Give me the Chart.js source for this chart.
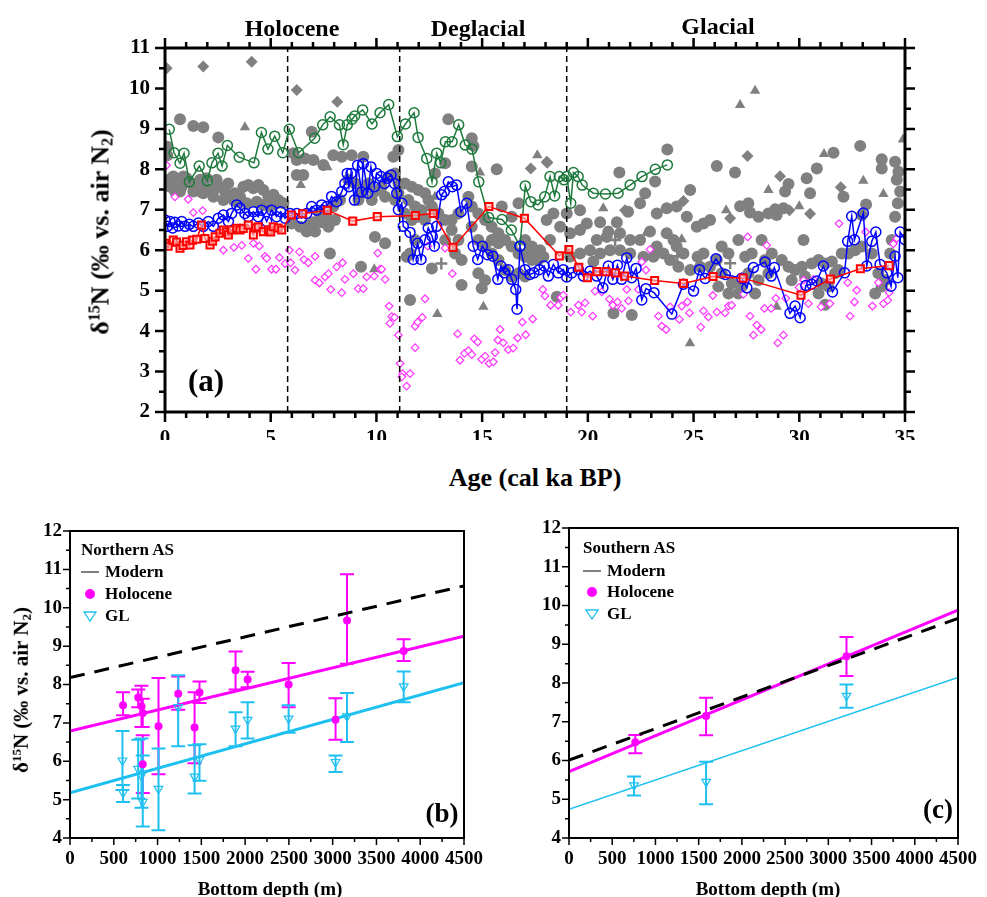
<!DOCTYPE html>
<html>
<head>
<meta charset="utf-8">
<script src="https://cdn.jsdelivr.net/npm/chart.js@4.4.1/dist/chart.umd.min.js"></script>
<style>
  body { margin: 0; background: #fff; }
  #wrap { position: relative; width: 987px; height: 897px; overflow: hidden; background: #fff; }
  canvas { position: absolute; }
  .t { position: absolute; font-family: 'Liberation Serif', 'Times New Roman', serif; font-weight: bold; color: #000; white-space: nowrap; transform: translate(-50%, -50%); }
  .l { position: absolute; font-family: 'Liberation Serif', 'Times New Roman', serif; font-weight: bold; color: #000; white-space: nowrap; transform: translateY(-50%); }
  .rot { transform: translate(-50%, -50%) rotate(-90deg); }
  sup, sub { font-size: 62%; }
  sup { vertical-align: 0.55em; } sub { vertical-align: -0.25em; }
</style>
</head>
<body>
<div id="wrap">
  <canvas id="chartA" width="987" height="440" style="left:0;top:0"></canvas>
  <canvas id="chartB" width="493" height="397" style="left:0;top:500px"></canvas>
  <canvas id="chartC" width="494" height="397" style="left:493px;top:500px"></canvas>

  <div class="t" style="left:292px;top:28px;font-size:24px">Holocene</div>
  <div class="t" style="left:478px;top:28px;font-size:24px">Deglacial</div>
  <div class="t" style="left:718px;top:26px;font-size:24px">Glacial</div>
  <div class="t" style="left:206px;top:381px;font-size:31px">(a)</div>
  <div class="t rot" style="left:101px;top:232px;font-size:26px">&delta;<sup>15</sup>N (&permil; vs. air N<sub>2</sub>)</div>
  <div class="t" style="left:535px;top:478px;font-size:26px">Age (cal ka BP)</div>

  <div class="t rot" style="left:22px;top:690px;font-size:21px">&delta;<sup>15</sup>N (&permil; vs. air N<sub>2</sub>)</div>
  <div class="t" style="left:270px;top:889px;font-size:19px">Bottom depth (m)</div>
  <div class="l" style="left:81px;top:550px;font-size:17px">Northern AS</div>
  <div class="l" style="left:105px;top:572px;font-size:17px">Modern</div>
  <div class="l" style="left:105px;top:594px;font-size:17px">Holocene</div>
  <div class="l" style="left:105px;top:616px;font-size:17px">GL</div>
  <div class="t" style="left:442px;top:813px;font-size:27px">(b)</div>

  <div class="t" style="left:768px;top:889px;font-size:19px">Bottom depth (m)</div>
  <div class="l" style="left:583px;top:548px;font-size:17px">Southern AS</div>
  <div class="l" style="left:607px;top:571px;font-size:17px">Modern</div>
  <div class="l" style="left:607px;top:592px;font-size:17px">Holocene</div>
  <div class="l" style="left:607px;top:614px;font-size:17px">GL</div>
  <div class="t" style="left:938px;top:809px;font-size:27px">(c)</div>
</div>
<script>
// ---------- panel (a): d15N vs age ----------
const periodBounds = [5.8, 11.1, 19.0];

const greenSeries = [[0.2,8.99],[0.43,8.41],[0.71,8.15],[0.9,8.4],[1.15,7.69],[1.62,8.08],[2.0,7.72],[2.22,8.16],[2.51,8.4],[2.7,8.08],[2.95,8.59],[3.51,8.3],[4.21,8.16],[4.56,8.91],[4.87,8.5],[5.19,8.82],[5.57,8.41],[5.88,8.99],[6.32,8.41],[7.08,8.77],[7.46,9.1],[7.81,9.3],[8.25,9.1],[8.43,8.61],[8.62,9.1],[8.85,9.24],[8.97,9.32],[9.35,9.47],[9.79,9.12],[10.17,9.4],[10.58,9.6],[10.99,8.81],[11.37,9.12],[11.78,9.4],[11.97,8.79],[12.38,8.27],[12.63,7.69],[12.85,8.4],[13.04,8.16],[13.26,8.68],[13.58,8.68],[13.89,9.1],[14.2,8.6],[14.52,8.5],[14.84,7.69],[15.31,6.81],[15.94,6.76],[16.38,6.5],[16.79,6.1],[17.04,7.59],[17.3,7.2],[17.65,7.12],[17.96,7.32],[18.21,7.82],[18.43,7.34],[18.65,7.82],[18.87,7.74],[19.0,7.82],[19.19,7.16],[19.32,7.92],[19.54,7.82],[19.73,7.61],[20.26,7.41],[20.83,7.39],[21.43,7.41],[22.0,7.61],[22.56,7.82],[23.19,8.0],[23.76,8.11]];

const redSeries = [[0.0,6.17],[0.15,6.1],[0.39,6.25],[0.55,6.2],[0.71,6.05],[0.85,6.12],[1.02,6.21],[1.18,6.13],[1.3,6.25],[1.5,6.27],[1.73,6.62],[1.89,6.29],[2.13,6.13],[2.25,6.22],[2.37,6.33],[2.6,6.42],[2.76,6.5],[2.9,6.45],[3.0,6.38],[3.15,6.5],[3.39,6.54],[3.55,6.5],[3.7,6.54],[3.94,6.62],[4.18,6.38],[4.3,6.55],[4.41,6.58],[4.65,6.46],[4.89,6.5],[5.0,6.45],[5.12,6.58],[5.35,6.55],[5.52,6.5],[5.98,6.87],[6.51,6.9],[7.68,6.99],[8.88,6.72],[10.04,6.83],[11.84,6.86],[12.69,6.91],[13.62,6.07],[15.32,7.08],[17.0,6.79],[18.65,5.86],[19.1,6.02],[19.57,5.58],[19.98,5.32],[20.42,5.47],[20.86,5.47],[21.3,5.44],[21.74,5.36],[23.16,5.25],[24.52,5.18],[25.92,5.35],[27.34,5.31],[30.08,4.89],[31.47,5.29],[32.89,5.54],[34.25,5.62]];

const blueSeries = [[0.0,6.75],[0.11,6.59],[0.24,6.71],[0.36,6.55],[0.47,6.69],[0.63,6.6],[0.79,6.71],[0.95,6.59],[1.15,6.64],[1.34,6.59],[1.58,6.67],[1.81,6.59],[2.05,6.71],[2.29,6.59],[2.52,6.79],[2.76,6.87],[3.0,6.71],[3.15,6.91],[3.39,7.12],[3.55,7.04],[3.78,6.91],[3.94,6.83],[4.18,6.95],[4.41,6.83],[4.57,6.99],[4.81,6.71],[5.04,6.99],[5.28,6.83],[5.47,6.95],[5.68,6.79],[5.91,6.91],[6.23,6.91],[6.46,6.79],[6.7,6.91],[6.94,7.08],[7.17,6.99],[7.41,7.12],[7.65,7.08],[7.88,7.33],[8.12,7.2],[8.36,7.45],[8.51,7.65],[8.62,7.9],[8.7,7.57],[8.8,7.9],[8.96,7.24],[9.11,8.1],[9.3,7.44],[9.38,8.14],[9.59,7.41],[9.74,8.06],[9.9,7.57],[10.01,7.9],[10.22,7.82],[10.38,7.65],[10.53,7.78],[10.69,7.86],[10.85,7.65],[10.96,7.41],[11.04,7.0],[11.2,7.16],[11.27,6.59],[11.59,6.44],[11.74,5.77],[11.95,6.17],[12.11,5.77],[12.3,6.26],[12.45,6.55],[12.64,6.34],[12.74,6.1],[12.85,6.59],[13.08,7.37],[13.21,7.45],[13.4,7.69],[13.59,7.57],[13.79,7.61],[14.0,6.95],[14.27,7.16],[14.58,6.1],[14.79,5.77],[15.01,6.1],[15.26,5.89],[15.51,5.85],[15.74,5.28],[15.89,5.61],[16.05,5.44],[16.24,5.52],[16.4,5.28],[16.59,5.03],[16.65,4.54],[16.79,6.1],[17.03,5.52],[17.26,5.4],[17.45,5.44],[17.7,5.52],[17.93,5.61],[18.13,5.36],[18.37,5.65],[18.6,5.44],[18.84,5.52],[19.0,5.34],[19.24,5.44],[19.55,5.52],[19.79,5.36],[20.1,5.48],[20.42,5.36],[20.71,5.07],[20.97,5.61],[21.18,5.28],[21.4,5.63],[21.6,5.28],[21.84,5.81],[22.07,5.32],[22.28,5.55],[22.55,4.77],[22.75,5.05],[23.13,4.95],[23.97,4.42],[24.52,5.16],[25.0,4.99],[25.28,5.52],[25.55,5.3],[26.06,5.79],[26.5,5.4],[27.28,5.31],[27.52,5.07],[27.83,5.57],[28.38,5.71],[28.67,5.36],[28.82,5.57],[29.56,4.44],[29.8,4.62],[30.04,4.33],[30.31,5.13],[30.59,5.16],[30.83,5.24],[31.14,5.61],[31.57,4.97],[32.14,5.44],[32.29,6.22],[32.48,6.84],[32.61,6.26],[33.03,6.92],[33.19,5.61],[33.43,6.22],[33.62,6.45],[33.82,5.65],[34.14,5.44],[34.34,5.11],[34.53,5.85],[34.66,5.32],[34.77,6.45],[35.0,6.26]];

const magentaPoints = [[0.08,8.1],[0.47,7.32],[1.1,7.26],[1.34,6.93],[1.78,6.98],[2.76,6.0],[3.26,6.07],[3.63,6.12],[3.94,5.8],[4.18,6.17],[4.46,6.1],[4.3,5.53],[4.73,5.85],[4.81,5.8],[5.04,5.53],[5.25,5.53],[5.41,5.82],[5.68,5.67],[5.88,6.0],[5.94,5.69],[6.15,5.51],[6.36,5.96],[6.57,5.77],[6.78,5.69],[7.1,5.85],[7.1,5.26],[7.3,5.19],[7.57,5.34],[7.73,5.42],[7.84,5.03],[8.12,5.59],[8.36,4.95],[8.4,5.69],[8.51,5.28],[8.91,5.42],[9.14,5.05],[9.38,5.05],[9.54,5.34],[9.9,5.36],[10.06,5.93],[10.17,5.53],[10.25,5.53],[10.41,5.28],[10.6,4.62],[10.72,4.36],[10.64,4.19],[10.85,4.34],[11.04,3.9],[11.12,3.2],[11.23,2.95],[11.2,2.87],[11.43,2.64],[11.59,2.95],[11.83,3.59],[11.83,4.12],[11.95,4.22],[12.17,4.34],[12.3,4.8],[12.43,6.1],[13.25,6.05],[13.59,5.42],[13.84,3.93],[13.95,3.28],[14.16,3.45],[14.35,3.52],[14.51,3.42],[14.63,3.81],[14.79,3.73],[14.98,3.3],[15.14,3.38],[15.33,3.2],[15.53,3.24],[15.61,3.47],[15.74,3.78],[15.85,4.04],[16.0,3.71],[16.24,3.54],[16.47,3.58],[16.68,3.83],[16.9,4.22],[17.06,3.91],[17.39,4.3],[17.87,5.03],[17.97,4.87],[18.24,4.64],[18.6,4.64],[18.72,4.83],[18.84,4.89],[19.19,4.47],[19.55,4.64],[19.71,4.47],[19.87,4.7],[20.23,4.37],[20.34,4.99],[20.66,4.97],[21.02,4.79],[21.18,4.64],[21.4,4.72],[21.6,4.56],[21.92,4.75],[21.84,5.03],[22.39,5.03],[22.55,5.71],[22.75,5.51],[22.94,6.02],[23.34,4.37],[23.5,4.12],[23.7,4.04],[23.89,4.6],[24.33,4.29],[24.44,4.62],[24.71,4.72],[24.81,4.45],[25.34,4.1],[25.47,4.5],[25.7,4.35],[25.91,4.88],[26.1,4.47],[26.49,4.45],[26.65,4.62],[26.8,4.64],[27.36,4.91],[27.56,6.33],[27.67,4.37],[27.83,3.9],[27.99,4.15],[28.2,4.04],[28.35,4.56],[28.46,6.12],[28.67,4.56],[28.89,4.81],[28.98,3.71],[29.25,3.9],[29.36,4.81],[29.99,5.08],[30.2,5.26],[30.43,4.68],[30.67,5.28],[31.03,4.6],[31.45,4.68],[31.88,6.66],[32.29,5.2],[32.4,4.37],[32.61,4.72],[32.72,5.01],[33.14,6.45],[33.46,4.62],[33.74,5.2],[33.98,4.68],[34.18,4.76],[34.25,4.95],[34.45,6.16],[34.61,6.29]];

const grayCircles = [[0.71,9.24],[1.34,9.07],[1.81,9.04],[2.52,8.79],[0.11,8.56],[0.11,8.35],[0.16,7.74],[0.39,7.82],[0.63,7.74],[0.79,7.57],[1.02,7.78],[1.26,7.65],[1.5,7.57],[1.66,7.74],[1.89,7.57],[2.13,7.49],[2.37,7.53],[2.6,7.57],[2.84,7.45],[3.08,7.32],[3.31,7.41],[3.55,7.32],[3.71,7.57],[3.94,7.61],[4.18,7.53],[4.42,7.61],[4.65,7.49],[4.89,7.32],[5.13,7.37],[5.36,7.24],[5.6,7.16],[3.39,7.2],[3.86,7.16],[4.34,7.2],[4.65,7.12],[4.97,7.08],[5.28,7.16],[0.24,7.57],[0.47,7.45],[0.87,7.82],[1.34,7.45],[1.81,7.41],[2.29,7.32],[2.76,7.24],[3.23,7.24],[2.99,7.65],[2.44,7.74],[1.97,7.78],[0.71,7.45],[1.66,7.45],[6.07,8.4],[6.23,8.23],[6.62,8.27],[7.02,8.23],[6.23,7.86],[6.54,7.86],[7.96,8.35],[7.49,8.11],[8.36,8.31],[6.94,8.93],[6.78,6.62],[7.1,6.46],[7.41,6.69],[7.73,6.58],[8.04,6.75],[7.02,6.69],[6.7,6.46],[7.65,6.83],[7.96,7.08],[8.28,7.24],[7.8,5.92],[6.39,6.58],[5.99,6.66],[7.33,6.91],
  [13.4,9.24],[8.83,8.35],[9.38,8.31],[10.8,8.31],[11.04,8.48],[14.51,8.77],[14.59,8.58],[15.69,8.0],[13.25,8.15],[12.77,7.9],[8.67,7.74],[8.99,7.65],[9.3,7.41],[9.62,7.65],[9.93,7.45],[10.25,7.57],[10.57,7.82],[10.88,7.9],[11.04,7.65],[10.41,7.32],[9.15,7.24],[9.78,7.24],[10.88,7.24],[11.04,7.41],[11.35,7.65],[11.67,7.57],[11.98,7.49],[12.3,7.41],[11.51,7.24],[11.83,7.08],[12.14,6.99],[12.46,7.24],[12.62,7.08],[11.35,6.91],[11.67,6.75],[11.98,6.83],[12.3,6.75],[12.93,6.91],[13.25,6.75],[13.56,6.75],[13.88,6.91],[13.56,6.5],[13.88,6.25],[13.25,6.25],[13.72,5.92],[14.03,5.76],[11.59,5.92],[11.83,6.25],[12.62,5.55],[14.03,5.14],[9.93,6.33],[10.41,6.17],[9.27,5.59],[11.59,4.77],[11.43,5.84],[14.35,7.32],[14.51,7.08],[14.82,6.91],[15.14,6.75],[15.45,6.58],[15.77,6.42],[16.09,6.25],[16.4,6.09],[16.72,5.92],[17.03,5.84],[17.35,5.76],[14.51,6.58],[14.82,6.25],[15.14,6.09],[15.45,5.92],[15.77,5.76],[16.09,5.51],[16.4,5.35],[16.72,5.43],[17.03,5.35],[14.82,5.43],[15.14,5.26],[14.98,5.06],[15.45,6.25],[15.77,6.17],[15.93,7.08],[16.4,6.83],[16.72,7.16],[17.03,6.25],[17.35,6.09],[14.51,8.07],
  [23.76,8.49],[21.49,7.92],[26.1,8.08],[24.84,7.49],[18.37,6.91],[18.05,6.75],[19.0,6.91],[19.63,6.99],[19.95,6.66],[20.58,6.69],[20.97,6.46],[21.37,6.69],[21.9,6.95],[22.47,7.16],[22.71,7.41],[23.18,7.7],[23.26,6.91],[23.73,7.04],[24.2,7.08],[24.68,6.83],[25.15,6.58],[25.47,6.66],[25.78,6.75],[19.63,6.5],[19.16,6.42],[18.69,6.58],[18.21,6.25],[17.74,6.0],[17.27,6.0],[17.9,5.84],[20.42,6.25],[20.89,6.33],[21.52,6.42],[22.0,6.25],[22.47,6.25],[22.94,6.46],[23.26,6.09],[23.73,6.42],[24.05,6.25],[24.2,6.09],[24.52,5.92],[25.19,5.84],[25.47,5.92],[25.78,5.59],[26.1,5.76],[22.0,5.92],[21.52,6.0],[21.05,6.0],[20.58,5.92],[20.1,6.0],[19.63,5.92],[19.16,5.84],[20.26,5.72],[22.63,5.84],[23.1,5.84],[23.57,5.92],[23.89,5.76],[24.28,5.59],[24.84,5.51],[25.31,5.59],[21.21,4.44],[22.08,4.4],[18.53,4.85],[17.42,5.92],[17.66,5.76],
  [26.96,7.92],[32.88,8.58],[31.62,8.41],[30.83,8.02],[33.9,8.25],[33.9,8.02],[30.35,7.78],[29.49,7.64],[29.33,7.45],[27.2,7.09],[27.59,7.16],[27.67,6.93],[28.54,6.91],[28.86,7.01],[29.25,7.04],[28.93,6.87],[28.07,6.83],[30.51,7.41],[30.2,6.25],[33.16,7.13],[32.96,6.87],[32.09,7.32],[34.53,8.19],[34.69,7.94],[34.61,7.74],[34.77,7.45],[34.66,7.16],[34.53,6.83],[34.37,6.25],[34.3,5.92],[26.33,6.09],[26.65,5.92],[27.12,6.25],[27.44,5.84],[27.75,5.92],[28.22,6.25],[28.38,5.76],[28.7,5.92],[29.17,5.76],[29.49,5.59],[29.8,5.51],[30.12,5.59],[30.59,5.67],[30.91,5.76],[31.22,5.67],[31.54,5.72],[31.85,5.51],[32.01,5.92],[32.32,5.92],[32.64,6.0],[32.96,6.09],[33.43,5.92],[33.74,5.43],[34.06,5.26],[26.33,5.43],[26.81,5.18],[27.12,4.93],[27.59,5.43],[27.91,4.93],[28.07,5.26],[28.54,5.43],[29.64,5.26],[30.27,5.35],[31.06,5.18],[31.38,5.1],[31.69,5.43],[33.59,4.93],[33.9,5.1],[26.17,5.1],[26.65,4.93],[27.28,5.1],[31.22,4.65],[30.91,4.93]];

const grayDiamonds = [[0.08,10.5],[1.81,10.54],[4.1,10.66],[6.23,9.96],[8.15,9.67],[17.3,8.02],[18.08,8.16],[27.55,8.33],[29.09,7.83],[30.51,6.9],[26.73,6.79],[31.96,7.56],[29.53,6.99],[21.76,6.99],[24.52,7.22],[18.06,8.19]];
const grayTriangles = [[3.78,9.04],[6.42,7.61],[7.68,8.05],[9.9,5.53],[12.77,7.32],[12.88,4.42],[14.9,7.92],[15.06,4.6],[17.61,8.35],[27.2,9.59],[27.91,9.94],[34.9,8.74],[31.17,8.38],[33.03,7.72],[33.98,7.39],[30.0,7.09],[28.54,7.49],[26.54,6.99],[24.83,3.7],[20.73,7.04],[22.78,6.43],[24.44,6.27],[28.93,4.6]];
const grayCrosses = [[13.07,5.67],[21.29,6.25],[24.23,5.85],[26.73,5.68]];

// ---------- panels (b) and (c): d15N vs bottom depth ----------
const fitDepth = [0, 4500];

const nHoloDepth = [606, 779, 816, 831, 831, 1011, 1236, 1423, 1479, 1891, 2029, 2497, 3033, 3164, 3811];
const nHoloVal   = [7.46, 7.66, 7.43, 7.26, 5.92, 6.91, 7.76, 6.88, 7.79, 8.37, 8.13, 8.0, 7.08, 9.67, 8.87];
const nHoloHi    = [7.8, 7.87, 7.97, 7.63, 6.68, 8.17, 8.21, 7.8, 8.08, 8.86, 8.33, 8.56, 7.64, 10.87, 9.18];
const nHoloLo    = [7.2, 7.41, 6.89, 6.89, 5.17, 5.66, 7.34, 5.95, 7.52, 7.87, 7.93, 7.41, 6.56, 8.54, 8.61];
const nGLDepth = [599, 606, 779, 816, 831, 1011, 1236, 1423, 1479, 1891, 2029, 2497, 3033, 3164, 3811];
const nGLVal   = [6.02, 5.18, 5.8, 5.63, 4.94, 5.28, 7.41, 5.6, 6.04, 6.85, 7.08, 7.11, 5.98, 7.17, 7.95];
const nGLHi    = [6.79, 5.38, 6.56, 6.59, 6.15, 6.33, 8.24, 6.42, 6.44, 7.28, 7.54, 7.46, 6.15, 7.78, 8.34];
const nGLLo    = [5.25, 4.94, 5.03, 4.79, 4.3, 4.2, 6.39, 5.16, 5.49, 6.39, 6.59, 6.74, 5.72, 6.5, 7.54];
const nModern  = [8.18, 10.57];
const nHoloFit = [6.79, 9.26];
const nGLFit   = [5.18, 8.05];

const sHoloDepth = [767, 1586, 3210];
const sHoloVal   = [6.47, 7.15, 8.69];
const sHoloHi    = [6.66, 7.62, 9.19];
const sHoloLo    = [6.19, 6.65, 8.18];
const sGLDepth = [752, 1586, 3210];
const sGLVal   = [5.36, 5.45, 7.67];
const sGLHi    = [5.59, 5.97, 7.96];
const sGLLo    = [5.1, 4.87, 7.36];
const sModern  = [6.01, 9.67];
const sHoloFit = [5.71, 9.88];
const sGLFit   = [4.74, 8.14];

const FONT = "'Liberation Serif', 'Times New Roman', serif";
const MAGENTA = '#ff00ff';
const CYAN = '#1ec0f0';

function pairs(list) { return list.map(p => ({x: p[0], y: p[1]})); }
function zip(xs, ys) { return xs.map((x, i) => ({x: x, y: ys[i]})); }
const plain = v => String(v);

// frame + outward major/minor ticks
const framePlugin = {
  id: 'frame',
  afterDraw(chart, args, o) {
    const {ctx, chartArea: a, scales} = chart;
    const xs = scales.x, ys = scales.y;
    ctx.save();
    ctx.strokeStyle = '#000';
    ctx.lineWidth = o.tickWidth;
    ctx.beginPath();
    const isMajor = (v, step) => Math.abs(v / step - Math.round(v / step)) < 1e-6;
    for (let v = xs.min; v <= xs.max + 1e-9; v += o.xMinor) {
      const px = xs.getPixelForValue(v);
      const len = isMajor(v, o.xMajor) ? o.majorLen : o.minorLen;
      if (o.sides.includes('bottom')) { ctx.moveTo(px, a.bottom); ctx.lineTo(px, a.bottom + len); }
      if (o.sides.includes('top')) { ctx.moveTo(px, a.top); ctx.lineTo(px, a.top - len); }
    }
    for (let v = ys.min; v <= ys.max + 1e-9; v += o.yMinor) {
      const py = ys.getPixelForValue(v);
      const len = isMajor(v, o.yMajor) ? o.majorLen : o.minorLen;
      if (o.sides.includes('left')) { ctx.moveTo(a.left, py); ctx.lineTo(a.left - len, py); }
      if (o.sides.includes('right')) { ctx.moveTo(a.right, py); ctx.lineTo(a.right + len, py); }
    }
    ctx.stroke();
    ctx.lineWidth = o.width;
    ctx.strokeRect(a.left, a.top, a.right - a.left, a.bottom - a.top);
    ctx.restore();
  }
};

// vertical error bars with caps
const errPlugin = {
  id: 'errbars',
  beforeDatasetsDraw(chart, args, o) {
    if (!o.sets) return;
    const {ctx, scales: {x, y}} = chart;
    ctx.save();
    o.sets.forEach(s => {
      ctx.strokeStyle = s.color;
      ctx.lineWidth = o.width;
      ctx.beginPath();
      s.x.forEach((d, i) => {
        const px = x.getPixelForValue(d);
        const hi = y.getPixelForValue(s.hi[i]);
        const lo = y.getPixelForValue(s.lo[i]);
        ctx.moveTo(px, hi); ctx.lineTo(px, lo);
        ctx.moveTo(px - o.cap, hi); ctx.lineTo(px + o.cap, hi);
        ctx.moveTo(px - o.cap, lo); ctx.lineTo(px + o.cap, lo);
      });
      ctx.stroke();
    });
    ctx.restore();
  }
};

// legend marks drawn next to the html legend text
const legendMarks = {
  id: 'legendMarks',
  afterDraw(chart, args, o) {
    if (!o.x) return;
    const ctx = chart.ctx;
    ctx.save();
    ctx.strokeStyle = '#000'; ctx.lineWidth = 1;
    ctx.beginPath(); ctx.moveTo(o.x - 9, o.y[0]); ctx.lineTo(o.x + 9, o.y[0]); ctx.stroke();
    ctx.fillStyle = MAGENTA;
    ctx.beginPath(); ctx.arc(o.x, o.y[1], 5, 0, Math.PI * 2); ctx.fill();
    ctx.strokeStyle = CYAN; ctx.lineWidth = 1.3;
    ctx.beginPath(); ctx.moveTo(o.x - 6, o.y[2] - 4); ctx.lineTo(o.x + 6, o.y[2] - 4); ctx.lineTo(o.x, o.y[2] + 5); ctx.closePath(); ctx.stroke();
    ctx.restore();
  }
};

Chart.register(framePlugin, errPlugin, legendMarks);

const periodLines = periodBounds.map(b => ({
  data: [{x: b, y: 2}, {x: b, y: 11}],
  showLine: true, borderColor: '#000', borderWidth: 1.5, borderDash: [6, 4],
  pointRadius: 0, order: 3
}));

new Chart(document.getElementById('chartA'), {
  type: 'scatter',
  data: {
    datasets: [
      {data: pairs(redSeries), showLine: true, borderColor: '#ff0000', borderWidth: 1.5,
       pointStyle: 'rect', pointRadius: 5, pointBorderWidth: 2, pointBorderColor: '#ff0000',
       pointBackgroundColor: 'rgba(255,200,200,0.6)', order: 0},
      {data: pairs(blueSeries), showLine: true, borderColor: '#0000ff', borderWidth: 1.5,
       pointStyle: 'circle', pointRadius: 5, pointBorderWidth: 1.5, pointBorderColor: '#0000ff',
       pointBackgroundColor: 'rgba(0,0,0,0)', order: 1},
      {data: pairs(greenSeries), showLine: true, borderColor: '#1e7a3c', borderWidth: 1.5,
       pointStyle: 'circle', pointRadius: 5, pointBorderWidth: 1.5, pointBorderColor: '#1e7a3c',
       pointBackgroundColor: 'rgba(0,0,0,0)', order: 2},
      ...periodLines,
      {data: pairs(magentaPoints), pointStyle: 'rectRot', pointRadius: 3.8, pointBorderWidth: 1.2,
       pointBorderColor: '#ff33ff', pointBackgroundColor: '#ffffff', order: 4},
      {data: pairs(grayCrosses), pointStyle: 'cross', pointRadius: 6, pointBorderWidth: 2.5,
       pointBorderColor: '#808080', order: 5},
      {data: pairs(grayTriangles), pointStyle: 'triangle', pointRadius: 6, pointBorderWidth: 0,
       pointBackgroundColor: '#808080', order: 5},
      {data: pairs(grayDiamonds), pointStyle: 'rectRot', pointRadius: 6, pointBorderWidth: 0,
       pointBackgroundColor: '#808080', order: 5},
      {data: pairs(grayCircles), pointStyle: 'circle', pointRadius: 6, pointBorderWidth: 0,
       pointBackgroundColor: '#808080', order: 6}
    ]
  },
  options: {
    responsive: false, animation: false,
    layout: {padding: {left: 0, top: 48, right: 82, bottom: 0}},
    plugins: {
      legend: {display: false}, tooltip: {enabled: false},
      frame: {sides: ['left', 'right', 'top', 'bottom'], xMajor: 5, xMinor: 1, yMajor: 1, yMinor: 0.5,
              majorLen: 10, minorLen: 6, width: 3, tickWidth: 2.5}
    },
    scales: {
      x: {type: 'linear', min: 0, max: 35,
          afterFit: s => { s.height = 28; },
          grid: {display: false, drawTicks: false}, border: {display: false},
          ticks: {stepSize: 5, padding: 14, color: '#000', callback: plain,
                  font: {family: FONT, size: 21, weight: 'bold'}}},
      y: {min: 2, max: 11,
          afterFit: s => { s.width = 165; },
          grid: {display: false, drawTicks: false}, border: {display: false},
          ticks: {stepSize: 1, padding: 15, color: '#000', callback: plain,
                  font: {family: FONT, size: 21, weight: 'bold'}}}
    }
  }
});

function depthChart(id, padTop, padRight, yWidth, d) {
  return new Chart(document.getElementById(id), {
    type: 'scatter',
    data: {
      datasets: [
        {data: zip(d.holoDepth, d.holoVal), pointStyle: 'circle', pointRadius: 4, pointBorderWidth: 0,
         pointBackgroundColor: MAGENTA, order: 0},
        {data: zip(d.glDepth, d.glVal), pointStyle: 'triangle', rotation: 180, pointRadius: 5,
         pointBorderWidth: 1.2, pointBorderColor: CYAN, pointBackgroundColor: 'rgba(0,0,0,0)', order: 1},
        {data: zip(fitDepth, d.modern), showLine: true, borderColor: '#000', borderWidth: 3,
         borderDash: [15, 10], pointRadius: 0, order: 2},
        {data: zip(fitDepth, d.holoFit), showLine: true, borderColor: MAGENTA, borderWidth: d.fitWidth,
         pointRadius: 0, order: 3},
        {data: zip(fitDepth, d.glFit), showLine: true, borderColor: CYAN, borderWidth: d.glWidth,
         pointRadius: 0, order: 4}
      ]
    },
    options: {
      responsive: false, animation: false,
      layout: {padding: {left: 0, top: padTop, right: padRight, bottom: 0}},
      plugins: {
        legend: {display: false}, tooltip: {enabled: false},
        frame: {sides: ['left', 'bottom'], xMajor: 500, xMinor: 250, yMajor: 1, yMinor: 0.5,
                majorLen: 7, minorLen: 4, width: 2, tickWidth: 1.5},
        errbars: {width: 2, cap: 7, sets: [
          {x: d.holoDepth, hi: d.holoHi, lo: d.holoLo, color: MAGENTA},
          {x: d.glDepth, hi: d.glHi, lo: d.glLo, color: CYAN}
        ]},
        legendMarks: d.legend
      },
      scales: {
        x: {type: 'linear', min: 0, max: 4500,
            afterFit: s => { s.height = 59; },
            grid: {display: false, drawTicks: false}, border: {display: false},
            ticks: {stepSize: 500, padding: 10, autoSkip: false, maxRotation: 0, color: '#000', callback: plain,
                    font: {family: FONT, size: 19, weight: 'bold'}}},
        y: {min: 4, max: 12,
            afterFit: s => { s.width = yWidth; },
            grid: {display: false, drawTicks: false}, border: {display: false},
            ticks: {stepSize: 1, padding: 8, color: '#000', callback: plain,
                    font: {family: FONT, size: 19, weight: 'bold'}}}
      }
    }
  });
}

depthChart('chartB', 31, 22, 70, {
  holoDepth: nHoloDepth, holoVal: nHoloVal, holoHi: nHoloHi, holoLo: nHoloLo,
  glDepth: nGLDepth, glVal: nGLVal, glHi: nGLHi, glLo: nGLLo,
  modern: nModern, holoFit: nHoloFit, glFit: nGLFit, fitWidth: 3, glWidth: 3,
  legend: {x: 90, y: [72, 94, 116]}
});

depthChart('chartC', 28, 19, 76, {
  holoDepth: sHoloDepth, holoVal: sHoloVal, holoHi: sHoloHi, holoLo: sHoloLo,
  glDepth: sGLDepth, glVal: sGLVal, glHi: sGLHi, glLo: sGLLo,
  modern: sModern, holoFit: sHoloFit, glFit: sGLFit, fitWidth: 3, glWidth: 1.5,
  legend: {x: 99, y: [71, 92, 114]}
});
</script>
</body>
</html>
